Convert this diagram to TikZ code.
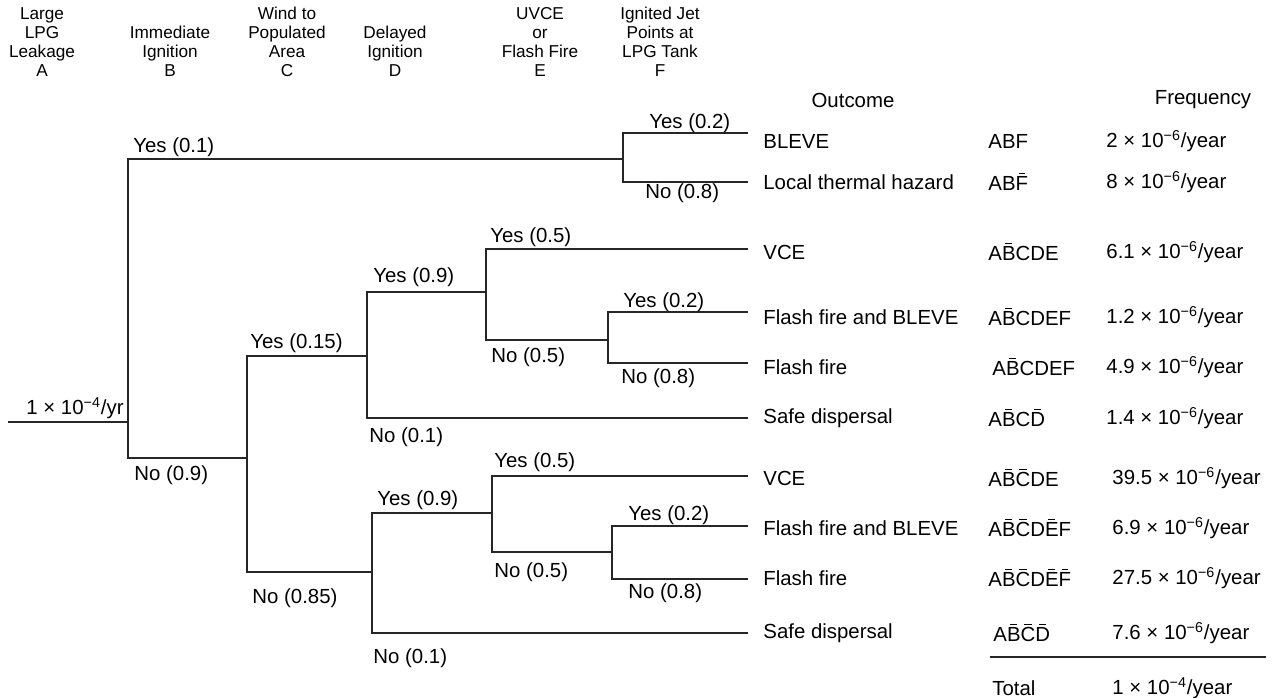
\documentclass[tikz,border=0pt]{standalone}
\usepackage{fontspec}
\setmainfont{Liberation Sans}
\usepackage{tikz}

\newsavebox{\nbbox}
\newcommand{\nb}[1]{\sbox{\nbbox}{#1}\rlap{\hbox to \wd\nbbox{\hss\rule[0.8em]{0.5\wd\nbbox}{0.06em}\hss}}#1}
\newcommand{\fq}[2]{#1 × 10\textsuperscript{−#2}/year}

\begin{document}
\begin{tikzpicture}[
			x=0.5pt, y=-0.5pt,
			every node/.style={font=\fontsize{10.2}{12}\selectfont, inner sep=0pt},
			hdr/.style={anchor=south, align=center, font=\fontsize{8.6}{9.5}\selectfont},
			lbl/.style={anchor=west},
			branch/.style={line width=0.6pt, draw=black!85},
			line cap=butt,
			line join=miter
			]
			\useasboundingbox (0,0) rectangle (1281,697);
			
			% column heads
			\node[hdr] (hA) at (42,77) {Large\\LPG\\Leakage\\A};
			\node[hdr] (hB) at (170,77) {Immediate\\Ignition\\B};
			\node[hdr] (hC) at (287,77) {Wind to\\Populated\\Area\\C};
			\node[hdr] (hD) at (395,77) {Delayed\\Ignition\\D};
			\node[hdr] (hE) at (540,77) {UVCE\\or\\Flash Fire\\E};
			\node[hdr] (hF) at (660,77) {Ignited Jet\\Points at\\LPG Tank\\F};
			\node (hout) at (853,100) {Outcome};
			\node (hfreq) at (1203,100) {Frequency};
			
			% branch points
			\coordinate (s) at (8,422);
			\coordinate (nA) at (128,422);
			\coordinate (nF1) at (623,159);
			\coordinate (nC) at (247,458);
			\coordinate (nD1) at (367,356);
			\coordinate (nE1) at (486,292);
			\coordinate (nF2) at (608,340);
			\coordinate (nD2) at (372,572);
			\coordinate (nE2) at (492,513);
			\coordinate (nF3) at (612,552);
			
			% leaf ends
			\coordinate (l1) at (748,133);
			\coordinate (l2) at (748,182);
			\coordinate (l3) at (748,249);
			\coordinate (l4) at (748,312);
			\coordinate (l5) at (748,363);
			\coordinate (l6) at (748,418);
			\coordinate (l7) at (748,476);
			\coordinate (l8) at (748,526);
			\coordinate (l9) at (748,579);
			\coordinate (l10) at (748,633);
			
			\draw[branch] (s) -- (nA);
			\draw[branch] (nA) |- (nF1);
			\draw[branch] (nA) |- (nC);
			\draw[branch] (nF1) |- (l1);
			\draw[branch] (nF1) |- (l2);
			\draw[branch] (nC) |- (nD1);
			\draw[branch] (nC) |- (nD2);
			\draw[branch] (nD1) |- (nE1);
			\draw[branch] (nD1) |- (l6);
			\draw[branch] (nE1) |- (l3);
			\draw[branch] (nE1) |- (nF2);
			\draw[branch] (nF2) |- (l4);
			\draw[branch] (nF2) |- (l5);
			\draw[branch] (nD2) |- (nE2);
			\draw[branch] (nD2) |- (l10);
			\draw[branch] (nE2) |- (l7);
			\draw[branch] (nE2) |- (nF3);
			\draw[branch] (nF3) |- (l8);
			\draw[branch] (nF3) |- (l9);
			
			% branch labels
			\node (start) at (75,408) {1 × 10\textsuperscript{−4}/yr};
			\node[lbl] (y1) at (133,147) {Yes (0.1)};
			\node[lbl] (n1) at (134,475) {No (0.9)};
			\node[lbl] (y2) at (250,343) {Yes (0.15)};
			\node[lbl] (n2) at (252,598) {No (0.85)};
			\node[lbl] (y3) at (373,277) {Yes (0.9)};
			\node[lbl] (n3) at (369,437) {No (0.1)};
			\node[lbl] (y4) at (377,500) {Yes (0.9)};
			\node[lbl] (n4) at (373,658) {No (0.1)};
			\node[lbl] (y5) at (490,237) {Yes (0.5)};
			\node[lbl] (n5) at (491,357) {No (0.5)};
			\node[lbl] (y6) at (494,462) {Yes (0.5)};
			\node[lbl] (n6) at (494,572) {No (0.5)};
			\node[lbl] (y7) at (649,123) {Yes (0.2)};
			\node[lbl] (n7) at (645,193) {No (0.8)};
			\node[lbl] (y8) at (623,302) {Yes (0.2)};
			\node[lbl] (n8) at (621,378) {No (0.8)};
			\node[lbl] (y9) at (628,515) {Yes (0.2)};
			\node[lbl] (n9) at (628,593) {No (0.8)};
			
			% outcomes
			\node[lbl] (o1) at (763,141) {BLEVE};
			\node[lbl] (o2) at (763,182) {Local thermal hazard};
			\node[lbl] (o3) at (763,252) {VCE};
			\node[lbl] (o4) at (763,317) {Flash fire and BLEVE};
			\node[lbl] (o5) at (763,367) {Flash fire};
			\node[lbl] (o6) at (763,418) {Safe dispersal};
			\node[lbl] (o7) at (763,478) {VCE};
			\node[lbl] (o8) at (763,528) {Flash fire and BLEVE};
			\node[lbl] (o9) at (763,578) {Flash fire};
			\node[lbl] (o10) at (763,633) {Safe dispersal};
			
			% event codes
			\node[lbl] (c1) at (988,141) {ABF};
			\node[lbl] (c2) at (988,182) {AB\nb{F}};
			\node[lbl] (c3) at (988,252) {A\nb{B}CDE};
			\node[lbl] (c4) at (988,317) {A\nb{B}CDEF};
			\node[lbl] (c5) at (992,367) {A\nb{B}CDEF};
			\node[lbl] (c6) at (988,418) {A\nb{B}C\nb{D}};
			\node[lbl] (c7) at (988,478) {A\nb{B}\nb{C}DE};
			\node[lbl] (c8) at (988,528) {A\nb{B}\nb{C}D\nb{E}F};
			\node[lbl] (c9) at (988,578) {A\nb{B}\nb{C}D\nb{E}\nb{F}};
			\node[lbl] (c10) at (993,633) {A\nb{B}\nb{C}\nb{D}};
			
			% frequencies
			\node[lbl] (f1) at (1106,141) {\fq{2}{6}};
			\node[lbl] (f2) at (1106,182) {\fq{8}{6}};
			\node[lbl] (f3) at (1106,252) {\fq{6.1}{6}};
			\node[lbl] (f4) at (1106,317) {\fq{1.2}{6}};
			\node[lbl] (f5) at (1106,367) {\fq{4.9}{6}};
			\node[lbl] (f6) at (1106,418) {\fq{1.4}{6}};
			\node[lbl] (f7) at (1112,478) {\fq{39.5}{6}};
			\node[lbl] (f8) at (1112,528) {\fq{6.9}{6}};
			\node[lbl] (f9) at (1112,578) {\fq{27.5}{6}};
			\node[lbl] (f10) at (1112,633) {\fq{7.6}{6}};
			
			\coordinate (t1) at (990,657);
			\coordinate (t2) at (1266,657);
			\draw[branch] (t1) -- (t2);
			\node[lbl] (tot) at (992,688) {Total};
			\node[lbl] (ftot) at (1112,688) {\fq{1}{4}};
		\end{tikzpicture}
\end{document}
